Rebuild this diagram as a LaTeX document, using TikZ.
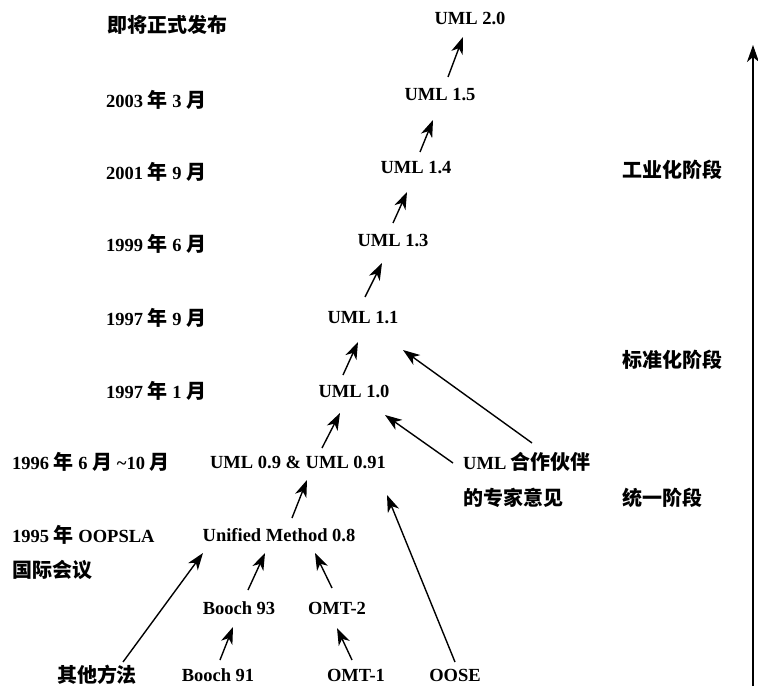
\documentclass[tikz,border=0pt]{standalone}
\usepackage{fontspec}
\setmainfont{Liberation Serif}
\newfontfamily\cjk[Scale=1.08]{Noto Sans CJK SC}
\newcommand{\zh}[1]{{\cjk #1}}
\usetikzlibrary{arrows.meta,calc}
\tikzset{
  txt/.style={inner sep=0pt, font=\bfseries\fontsize{18.5}{20}\selectfont},
  lft/.style={txt, anchor=west},
  arr/.style={line width=1.4pt, -{Stealth[length=17pt,width=12pt,inset=5pt]}},
}
\begin{document}
\begin{tikzpicture}[x=1pt,y=-1pt]
\useasboundingbox (0,0) rectangle (758,690);
% left date labels
\node[lft] (d20) at (107,25) {\zh{即将正式发布}};
\node[lft] (d15) at (106,100) {2003 \zh{年} 3 \zh{月}};
\node[lft] (d14) at (106,172) {2001 \zh{年} 9 \zh{月}};
\node[lft] (d13) at (106,244) {1999 \zh{年} 6 \zh{月}};
\node[lft] (d11) at (106,318) {1997 \zh{年} 9 \zh{月}};
\node[lft] (d10) at (106,391) {1997 \zh{年} 1 \zh{月}};
\node[lft] (d09) at (12,462) {1996 \zh{年} 6 \zh{月} \textasciitilde 10 \zh{月}};
\node[lft] (d08) at (12,535) {1995 \zh{年} OOPSLA};
\node[lft] (d08b) at (12,570) {\zh{国际会议}};
% versions
\node[txt] (u20) at (470,18) {UML 2.0};
\node[txt] (u15) at (440,95) {UML 1.5};
\node[txt] (u14) at (416,168) {UML 1.4};
\node[txt] (u13) at (393,241) {UML 1.3};
\node[txt] (u11) at (363,318) {UML 1.1};
\node[txt] (u10) at (354,391) {UML 1.0};
\node[txt] (u09) at (298,462) {UML 0.9 \& UML 0.91};
\node[txt] (um) at (279,535) {Unified Method 0.8};
\node[txt] (b93) at (239,608) {Booch 93};
\node[txt] (omt2) at (337,608) {OMT-2};
\node[txt] (b91) at (218,675) {Booch 91};
\node[txt] (omt1) at (356,675) {OMT-1};
\node[txt] (oose) at (455,675) {OOSE};
\node[txt] (other) at (97,675) {\zh{其他方法}};
\node[lft] (pt) at (463,462) {UML \zh{合作伙伴}};
\node[lft] (pt2) at (463,498) {\zh{的专家意见}};
% phases
\node[lft] (ph1) at (622,170) {\zh{工业化阶段}};
\node[lft] (ph2) at (622,360) {\zh{标准化阶段}};
\node[lft] (ph3) at (622,498) {\zh{统一阶段}};
% arrows
\draw[arr] ($(u15)+(8,-18)$) -- ($(u20)+(-7,19)$);
\draw[arr] ($(u14)+(4,-16)$) -- ($(u15)+(-7,25)$);
\draw[arr] ($(u13)+(0,-18)$) -- ($(u14)+(-9,24)$);
\draw[arr] ($(u11)+(2,-21)$) -- ($(u13)+(-11,22)$);
\draw[arr] ($(u10)+(-11,-16)$) -- ($(u11)+(-5,24)$);
\draw[arr] ($(u09)+(24,-14)$) -- ($(u10)+(-14,22)$);
\draw[arr] ($(pt.west)+(-10,1)$) -- ($(u10)+(31,24)$);
\draw[arr] ($(pt)+(5,-19)$) -- ($(u11)+(40,32)$);
\draw[arr] ($(um)+(13,-17)$) -- ($(u09)+(9,18)$);
\draw[arr] ($(b93)+(9,-18)$) -- ($(um)+(-14,18)$);
\draw[arr] ($(omt2)+(-5,-20)$) -- ($(um)+(36,18)$);
\draw[arr] ($(b91)+(2,-15)$) -- ($(b93)+(-6,19)$);
\draw[arr] ($(omt1)+(-4,-15)$) -- ($(omt2)+(0,20)$);
\draw[arr] ($(other)+(26,-13)$) -- ($(um)+(-76,18)$);
\draw[arr] ($(oose)+(0,-13)$) -- ($(u09)+(89,33)$);
% time axis
\coordinate (tb) at (753,686);
\coordinate (tt) at (753,45);
\draw[arr] (tb) -- (tt);
\end{tikzpicture}
\end{document}
